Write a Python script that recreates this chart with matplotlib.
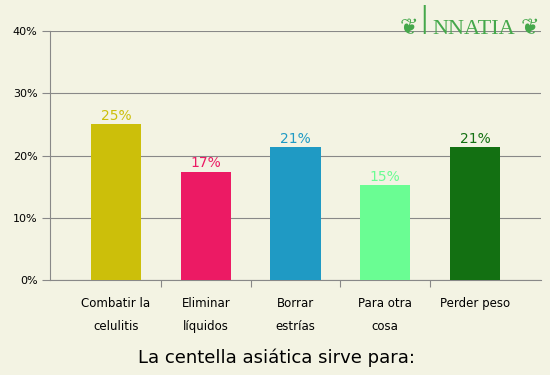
import numpy as np
import matplotlib.pyplot as plt

categories = ['Combatir la\ncelulitis', 'Eliminar\nlíquidos', 'Borrar\nestrías', 'Para otra\ncosa', 'Perder peso']
values = [25.0, 17.4, 21.3, 15.2, 21.3]
labels = ['25%', '17%', '21%', '15%', '21%']
colors = ['#CCBF0A', '#EC1A64', '#1F9AC4', '#6AFD93', '#137012']

bg = '#F3F3E3'
fig = plt.figure(figsize=(5.5, 3.75), dpi=100, facecolor=bg)
ax = fig.add_axes([50/550, 1-280/375, 491/550, 249/375], facecolor=bg)

x = np.arange(len(values))
ax.bar(x, values, width=0.56, color=colors, zorder=3)
for xi, v, lab, c in zip(x, values, labels, colors):
    ax.text(xi, v + 0.2, lab, ha='center', va='bottom', fontsize=10, color=c)

ax.set_xlim(-0.736, 4.736)
ax.set_ylim(0, 40)
ax.set_yticks([0, 10, 20, 30, 40])
ax.set_yticklabels(['0%', '10%', '20%', '30%', '40%'], fontsize=8)
ax.yaxis.grid(True, color='#888888', linewidth=0.8, zorder=0)

# category boundaries as ticks, labels at centres
ax.set_xticks([0.5, 1.5, 2.5, 3.5])
ax.set_xticklabels([])
ax.set_xticks(x, minor=True)
ax.set_xticklabels(categories, minor=True, fontsize=8.5, linespacing=2.0)
ax.tick_params(axis='x', which='minor', length=0, pad=12)
ax.tick_params(axis='x', which='major', length=5, color='#888888', width=0.8)
ax.tick_params(axis='y', length=6, color='#888888', width=0.8, pad=3)

for s in ['top', 'right']:
    ax.spines[s].set_visible(False)
for s in ['left', 'bottom']:
    ax.spines[s].set_color('#888888')
    ax.spines[s].set_linewidth(0.8)

fig.text(277/550, 1-358/375, 'La centella asiática sirve para:', ha='center', va='center', fontsize=13)

# logo
green = '#45A84B'
fig.text(424/550, 1-34/375, 'I', ha='center', va='baseline', fontsize=28, color=green, family='DejaVu Sans', fontweight='light')
fig.text(432/550, 1-34/375, 'NNATIA', ha='left', va='baseline', fontsize=16, color=green, family='Liberation Serif')
fig.text(409/550, 1-34/375, '❦', ha='center', va='baseline', fontsize=16, color=green)
fig.text(530/550, 1-34/375, '❦', ha='center', va='baseline', fontsize=16, color=green)

fig.savefig('out.png', dpi=100, facecolor=bg)
